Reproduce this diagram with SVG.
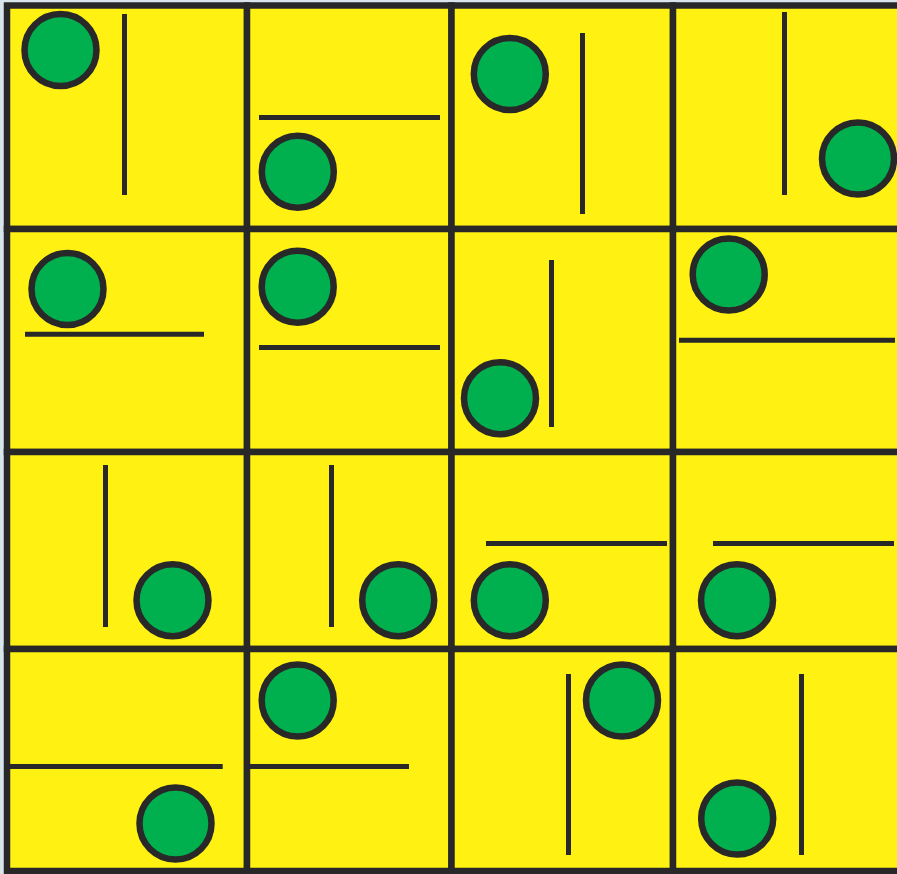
<svg xmlns="http://www.w3.org/2000/svg" width="897" height="874" viewBox="0 0 897 874">
<style>
.bg{fill:#d8e5eb}
.cell{fill:#fff212;stroke:#282828;stroke-width:6.5}
.dot{fill:#00b04f;stroke:#282828;stroke-width:6.5}
.bar{stroke:#282828;stroke-width:5;fill:none}
</style>
<rect class="bg" x="0" y="0" width="897" height="874"/>
<g id="grid">
<rect class="cell" x="7" y="5.5" width="240" height="223.5"/>
<rect class="cell" x="247" y="5.5" width="204.5" height="223.5"/>
<rect class="cell" x="451.5" y="5.5" width="221.5" height="223.5"/>
<rect class="cell" x="673" y="5.5" width="240" height="223.5"/>
<rect class="cell" x="7" y="229" width="240" height="223"/>
<rect class="cell" x="247" y="229" width="204.5" height="223"/>
<rect class="cell" x="451.5" y="229" width="221.5" height="223"/>
<rect class="cell" x="673" y="229" width="240" height="223"/>
<rect class="cell" x="7" y="452" width="240" height="197"/>
<rect class="cell" x="247" y="452" width="204.5" height="197"/>
<rect class="cell" x="451.5" y="452" width="221.5" height="197"/>
<rect class="cell" x="673" y="452" width="240" height="197"/>
<rect class="cell" x="7" y="649" width="240" height="222"/>
<rect class="cell" x="247" y="649" width="204.5" height="222"/>
<rect class="cell" x="451.5" y="649" width="221.5" height="222"/>
<rect class="cell" x="673" y="649" width="240" height="222"/>
</g>
<g id="c11"><circle class="dot" cx="60.5" cy="50" r="36"/><line class="bar" x1="124.5" y1="14" x2="124.5" y2="195"/></g>
<g id="c12"><line class="bar" x1="259" y1="117.5" x2="440" y2="117.5"/><circle class="dot" cx="297.8" cy="171.7" r="36"/></g>
<g id="c13"><circle class="dot" cx="509.8" cy="74" r="36"/><line class="bar" x1="582.5" y1="33" x2="582.5" y2="214"/></g>
<g id="c14"><line class="bar" x1="784.5" y1="12" x2="784.5" y2="195"/><circle class="dot" cx="858" cy="158.5" r="36"/></g>
<g id="c21"><circle class="dot" cx="67.5" cy="289" r="36"/><line class="bar" x1="25" y1="334.3" x2="204" y2="334.3"/></g>
<g id="c22"><circle class="dot" cx="297.7" cy="286.7" r="36"/><line class="bar" x1="259" y1="347.5" x2="440" y2="347.5"/></g>
<g id="c23"><line class="bar" x1="551.5" y1="260" x2="551.5" y2="427"/><circle class="dot" cx="500" cy="398.2" r="36"/></g>
<g id="c24"><circle class="dot" cx="728.7" cy="274.5" r="36"/><line class="bar" x1="679" y1="340.3" x2="895" y2="340.3"/></g>
<g id="c31"><line class="bar" x1="105.5" y1="465" x2="105.5" y2="627"/><circle class="dot" cx="172.5" cy="600.2" r="36"/></g>
<g id="c32"><line class="bar" x1="331.5" y1="465" x2="331.5" y2="627"/><circle class="dot" cx="398.2" cy="600.2" r="36"/></g>
<g id="c33"><line class="bar" x1="486" y1="543.5" x2="667" y2="543.5"/><circle class="dot" cx="509.8" cy="600.2" r="36"/></g>
<g id="c34"><line class="bar" x1="713" y1="543.5" x2="894" y2="543.5"/><circle class="dot" cx="737" cy="600.2" r="36"/></g>
<g id="c41"><line class="bar" x1="10" y1="766.5" x2="222.7" y2="766.5"/><circle class="dot" cx="175.5" cy="823.5" r="36"/></g>
<g id="c42"><circle class="dot" cx="297.7" cy="700.5" r="36"/><line class="bar" x1="249" y1="766.5" x2="409" y2="766.5"/></g>
<g id="c43"><line class="bar" x1="568.5" y1="674" x2="568.5" y2="855"/><circle class="dot" cx="622" cy="700.5" r="36"/></g>
<g id="c44"><circle class="dot" cx="737.2" cy="818.5" r="36"/><line class="bar" x1="801.5" y1="674" x2="801.5" y2="855"/></g>
<g id="connectors"/>
</svg>
